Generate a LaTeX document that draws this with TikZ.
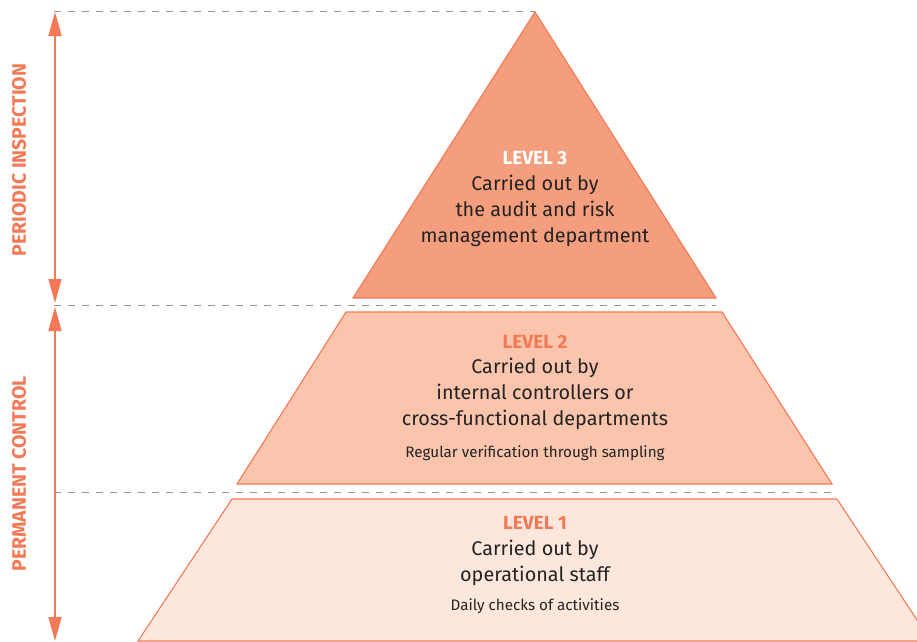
\documentclass[tikz,border=0pt]{standalone}
\usepackage{fontspec}
\setmainfont{Fira Sans}
\usepackage{xcolor}
\definecolor{accent}{RGB}{243,121,86}
\definecolor{levelthree}{RGB}{245,158,126}
\definecolor{leveltwo}{RGB}{250,197,172}
\definecolor{levelone}{RGB}{253,231,221}
\definecolor{guide}{RGB}{150,150,150}
\definecolor{ink}{RGB}{35,35,35}
\usetikzlibrary{arrows.meta}

\begin{document}
\begin{tikzpicture}[x=1pt, y=-1pt,
  tier/.style={draw=accent, line width=1.1pt},
  guideline/.style={draw=guide, line width=0.9pt, dash pattern=on 7pt off 7pt},
  span/.style={{Triangle[length=24pt,width=13pt]}-{Triangle[length=24pt,width=13pt]}, draw=accent, line width=1.6pt},
  sidelabel/.style={rotate=90, text=accent, font=\fontsize{19.5}{20}\selectfont\bfseries},
  levelname/.style={text=accent, font=\fontsize{19}{20}\selectfont\bfseries},
  bodytext/.style={align=center, text=ink, font=\fontsize{19.8}{26}\selectfont},
  notetext/.style={text=ink, font=\fontsize{15.2}{16}\selectfont}
]
\useasboundingbox (0,0) rectangle (917,641);
\clip (0,0) rectangle (917,641);

% guide lines between the levels
\coordinate (g3) at (54,11);
\coordinate (g2) at (54,305);
\coordinate (g1) at (54,492);
\draw[guideline] (g3) -- (535,11);
\draw[guideline] (g2) -- (716,305);
\draw[guideline] (g1) -- (832,492);

% the three tiers
\filldraw[tier, fill=levelthree] (535,12) -- (716,298) -- (353,298) -- cycle;
\filldraw[tier, fill=leveltwo] (346,312) -- (722,312) -- (832,484) -- (237,484) -- cycle;
\filldraw[tier, fill=levelone] (232,499) -- (837,499) -- (931,641) -- (138,641) -- cycle;

% level 3
\node[levelname, text=white] (l3) at (535,158) {LEVEL 3};
\node[bodytext] (b3) at (535,211) {Carried out by\\the audit and risk\\management department};

% level 2
\node[levelname] (l2) at (535,342) {LEVEL 2};
\node[bodytext] (b2) at (535,394) {Carried out by\\internal controllers or\\cross-functional departments};
\node[notetext] (n2) at (535,453) {Regular verification through sampling};

% level 1
\node[levelname] (l1) at (535,523) {LEVEL 1};
\node[bodytext] (b1) at (535,563) {Carried out by\\operational staff};
\node[notetext] (n1) at (535,606) {Daily checks of activities};

% side arrows
\coordinate (pTop) at (55,12);
\coordinate (pBot) at (55,303);
\coordinate (cTop) at (55,307);
\coordinate (cBot) at (55,641);
\draw[span] (pTop) -- (pBot);
\draw[span] (cTop) -- (cBot);
\node[sidelabel] (periodic) at (19,160) {PERIODIC INSPECTION};
\node[sidelabel] (permanent) at (19,474) {PERMANENT CONTROL};
\end{tikzpicture}
\end{document}
